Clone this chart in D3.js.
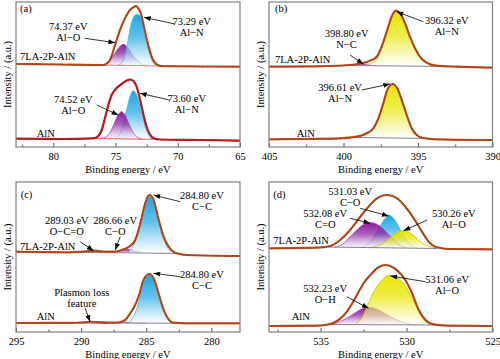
<!DOCTYPE html>
<meta charset="utf-8">
<style>
body { margin: 0; background: #fff; }
text { font-family: "Liberation Serif", "Times New Roman", serif; }
.frame { fill: none; stroke: #808080; stroke-width: 1.2px; }
.axis text { font-size: 10.5px; fill: #000; font-family: "Liberation Serif", serif; }
.axis line { stroke: #555; }
.axis path { display: none; }
.lbl { font-size: 10.5px; fill: #000; }
</style>
<svg width="500" height="359"></svg>
<script src="https://d3js.org/d3.v7.min.js"></script>
<script>

// ---- (a) Al 2p : [binding energy, intensity] ----
var aTop = [[83,79],[79.5,78.5],[76.65,78],[75.98,78],[75.45,83],[75.04,98],[74.64,113],[74.24,124.7],[73.84,133],[73.49,136.3],[73.36,137],[73.17,134.5],[73.04,132],[72.9,126.3],[72.63,111.3],[72.37,98],[72.1,86.3],[71.69,78.7],[71.29,77],[68.2,76.5],[65,76.3]];
var aTopAlO = [[76.37,77.8],[75.97,78.6],[75.57,81.6],[75.17,87.4],[74.77,94.8],[74.37,98.7],[73.97,94.6],[73.57,87.2],[73.17,81.4],[72.77,78.3],[72.37,77.5]];
var aTopAlN = [[74.8,77.6],[74.4,82],[74.1,95],[73.97,104.7],[73.7,121.3],[73.29,128.7],[72.9,124.7],[72.63,108],[72.4,95],[72.23,88],[71.83,78],[71.5,77.2]];
var aTopBase = [[76.3,78],[71.2,77]];
var aAlN = [[83,4.3],[79.5,4],[76.79,4.7],[76.39,7],[76.11,13],[75.85,25],[75.58,38],[75.31,48],[74.91,55],[74.5,59],[74.1,62.5],[73.84,63.5],[73.57,62],[73.3,56],[73.04,44],[72.77,29],[72.5,16],[72.23,8.5],[71.97,5],[71.43,3.5],[68.2,3],[65,2.3]];
var aAlNAlO = [[76.2,4.4],[75.72,6.5],[75.42,11],[75.12,19],[74.82,27.5],[74.52,31.3],[74.22,27.5],[73.92,19],[73.62,11],[73.32,6.5],[72.9,4]];
var aAlNAlN = [[75.0,4.5],[74.7,8],[74.4,18],[74.1,34],[73.85,46],[73.6,52.3],[73.3,48],[73.04,38],[72.77,24],[72.5,12],[72.23,5.5],[71.9,3.8]];
var aAlNBase = [[76.6,4.5],[71.6,3.6]];

// ---- (b) N 1s ----
var bTop = [[405,76.3],[401.8,76.7],[399.56,78],[398.78,79.7],[398.22,82.3],[397.77,86.3],[397.44,96.3],[397.1,111.3],[396.77,126.3],[396.5,132.3],[396.21,129.7],[395.87,119.7],[395.54,106.3],[395.2,94.7],[394.87,86.3],[394.42,80.3],[393.75,77.3],[392.4,76.3],[390,75.3]];
var bTopAlN = [[398.6,77.5],[398.2,79.5],[397.77,84],[397.44,95],[397.1,110.5],[396.77,126],[396.5,132],[396.21,129.7],[395.87,119.7],[395.54,106.3],[395.2,94.7],[394.87,86.3],[394.42,80.3],[393.75,77.1],[393.3,76.6]];
var bTopNC = [[399.7,77.6],[399.2,78.5],[398.8,79.2],[398.4,78.5],[397.9,77.4]];
var bTopBase = [[399.8,77.5],[393.3,76.6]];
var bAlN = [[405,3.7],[400.68,4.3],[399.11,6.3],[398.44,9.7],[398.0,14.7],[397.66,24.7],[397.33,39.7],[397.06,53],[396.7,59],[396.43,55.7],[396.09,43],[395.76,28],[395.42,14.7],[395.09,8],[394.64,5],[393.75,3.7],[390,3]];
var bAlNAlN = [[399.0,5.8],[398.44,9.2],[398.0,14.2],[397.66,24.2],[397.33,39.2],[397.06,52.5],[396.7,58.5],[396.43,55.2],[396.09,42.5],[395.76,27.5],[395.42,14.2],[395.09,7.5],[394.64,4.6],[394.1,4]];
var bAlNBase = [[399.2,5.5],[394.2,4.5]];

// ---- (c) C 1s ----
var cTop = [[295,73.3],[291.1,72.7],[289.56,73.7],[288.92,74.3],[288.28,73.3],[287.38,73.3],[286.75,75.7],[286.23,79],[285.85,85],[285.59,95],[285.33,108.3],[285.08,121.7],[284.77,130],[284.48,126.7],[284.23,115],[283.97,101.7],[283.67,88.3],[283.28,78.3],[282.77,72.3],[281.87,70],[277.8,69]];
var cTopCC = [[286.4,73],[286.1,77],[285.85,83],[285.59,93],[285.33,106],[285.08,119],[284.8,128.5],[284.48,125.5],[284.23,114],[283.97,100.5],[283.67,87],[283.4,78],[283.1,73.5],[282.8,72]];
var cTopCO = [[287.7,72.6],[287.2,74],[286.9,75.4],[286.66,76],[286.3,75.4],[285.9,74],[285.4,72.4]];
var cTopOCO = [[290.0,72.9],[289.5,73.9],[289.03,74.4],[288.5,73.9],[288.0,72.9]];
var cTopBase = [[290.5,72.8],[282.5,71.5]];
var cAlN = [[295,2],[291,2.2],[289.82,2.5],[289.3,3.2],[288.02,2.2],[287.13,2.5],[286.62,5],[286.23,11.7],[285.85,20],[285.51,31.7],[285.21,45],[284.77,51],[284.44,46.7],[284.13,35],[283.79,20],[283.41,8.3],[282.9,2.3],[281.87,1.7],[277.8,1.7]];
var cAlNCC = [[286.3,2.5],[286.0,8],[285.7,17],[285.45,30],[285.2,43],[284.8,50],[284.44,46],[284.13,34],[283.79,19],[283.5,9],[283.2,3.5],[282.9,2]];
var cAlNPL = [[290.6,2.1],[290.0,3],[289.4,3.6],[288.8,3.6],[288.0,3.1],[287.0,2.7],[286.0,2.3],[285.0,2.0]];
var cAlNBase = [[291,2],[282.5,1.8]];

// ---- (d) O 1s ----
var dTop = [[538,76.7],[535.22,77.3],[534.44,79],[533.86,85],[533.28,95],[532.69,108.3],[532.21,118.3],[531.72,126.7],[531.14,130],[530.55,126.7],[530.07,118.3],[529.58,106.7],[529.1,93.3],[528.71,83.3],[528.32,78.3],[527.45,76],[525,75.7]];
var dTopCO = [[532.6,77.5],[532.2,82],[531.85,90],[531.5,100],[531.25,106.5],[531.03,110],[530.8,107.5],[530.5,100],[530.2,90],[529.85,82],[529.5,77.5]];
var dTopCdO = [[534.2,77.6],[533.7,81],[533.3,88],[532.9,95],[532.5,100.5],[532.08,102.3],[531.7,100.5],[531.3,95],[530.9,88],[530.5,81],[530.0,77.5]];
var dTopAlO = [[532.2,77.3],[531.7,79],[531.3,82.5],[530.9,88],[530.5,92.8],[530.26,94.3],[529.9,93],[529.5,88],[529.1,82],[528.7,78.5],[528.2,77]];
var dTopBase = [[534.6,78],[528.2,76.5]];
var dAlN = [[538,-1],[535.22,-0.7],[534.44,1],[533.96,5],[533.47,13.3],[532.99,26.7],[532.5,41.7],[532.01,51.7],[531.63,57.7],[531.24,60],[530.85,58.3],[530.46,53.3],[530.07,45],[529.68,31.7],[529.29,15],[528.9,5],[528.42,0.7],[527.45,-0.7],[525,-1]];
var dAlNAlO = [[533.0,0.5],[532.6,7],[532.3,18.3],[532.0,30],[531.72,38.3],[531.3,47],[530.94,50],[530.6,48.5],[530.36,45],[530.0,37.5],[529.78,30],[529.5,21],[529.29,13.3],[528.9,3.3],[528.5,0]];
var dAlNOH = [[534.5,0],[534.0,2.5],[533.5,6.5],[533.0,12],[532.6,16],[532.21,17.7],[531.8,16.5],[531.4,13],[531.0,9],[530.5,4.5],[530.0,1.5],[529.5,0.2]];
var dAlNBase = [[534.6,0.5],[528.2,0]];

// ---- axes ----
var aTicks = [80,75,70,65], aMinor = [82.5,77.5,72.5,67.5];
var bTicks = [405,400,395,390], bMinor = [402.5,397.5,392.5];
var cTicks = [295,290,285,280], cMinor = [292.5,287.5,282.5];
var dTicks = [535,530,525], dMinor = [537.5,532.5,527.5];

// ---- annotations: [E, I, line1, line2, arrowFromE, arrowFromI, arrowToE, arrowToI] ----
var aNotes = [[78.8,113.5,"74.37 eV","Al\u2212O",77.46,104.7,75.04,100.3],
              [68.88,117.8,"73.29 eV","Al\u2212N",70.23,119,72.71,125.7],
              [78.4,40.2,"74.52 eV","Al\u2212O",76.51,38,74.78,28],
              [69.28,41.2,"73.60 eV","Al\u2212N",70.65,43,73.04,49.7]];
var bNotes = [[399.79,106.2,"398.80 eV","N\u2212C",399.56,88,398.67,79],
              [393.07,118.8,"396.32 eV","Al\u2212N",394.64,121.3,396.43,131.3],
              [400.23,52.2,"396.61 eV","Al\u2212N",398.78,53,396.88,59]];
var cNotes = [[291.1,100.8,"289.03 eV","O\u2212C=O",290.08,83.3,289.05,74.3],
              [287.38,100.8,"286.66 eV","C\u2212O",287.0,88.3,287.38,75],
              [280.72,126.5,"284.80 eV","C\u2212C",282.38,123.3,284.44,130],
              [280.72,47.5,"284.80 eV","C\u2212C",282.38,48.3,284.44,51.7],
              [289.95,28.8,"Plasmon loss","feature",289.69,16.7,289.31,3.3]];
var dNotes = [[533.28,129.8,"531.03 eV","C\u2212O",532.69,116.7,531.04,109],
              [534.73,108.2,"532.08 eV","C=O",533.28,106.7,532.11,101.7],
              [527.25,108.2,"530.26 eV","Al\u2212O",528.8,105,530.17,94.3],
              [527.64,42.2,"531.06 eV","Al\u2212O",528.9,43.3,530.94,49],
              [534.73,33.2,"532.23 eV","O\u2212H",533.47,28.3,532.21,16.7]];

var sampleTop = "7LA-2P-AlN", sampleBot = "AlN";

var panels = [
  {dom:[83,65], ticks:aTicks, minor:aMinor, box:[16,240,2,147], yd:[-4,141], notes:aNotes,
   labels:[[82.68,82.8,sampleTop],[81.34,6.2,sampleBot],[82.68,131,"(a)"]],
   spectra:[{data:aTop, col:"#b8672a", dot:"#7c3410", base:aTopBase, bcol:"#f07a7a",
             comps:[{d:aTopAlO,k:"purple"},{d:aTopAlN,k:"cyan"}]},
            {data:aAlN, col:"#b3261e", dot:"#7a0c0c", base:aAlNBase, bcol:"#e85a5a",
             comps:[{d:aAlNAlN,k:"cyan"},{d:aAlNAlO,k:"purple"}]}]},
  {dom:[405,390], ticks:bTicks, minor:bMinor, box:[269,492.5,2,147], yd:[-4,141], notes:bNotes,
   labels:[[404.6,80.2,sampleTop],[403.14,6.2,sampleBot],[404.6,131,"(b)"]],
   spectra:[{data:bTop, col:"#b8672a", dot:"#7c3410", base:bTopBase, bcol:"#8a7f96",
             comps:[{d:bTopNC,k:"purple"},{d:bTopAlN,k:"yellow"}]},
            {data:bAlN, col:"#b8672a", dot:"#7c3410", base:bAlNBase, bcol:"#8a7f96",
             comps:[{d:bAlNAlN,k:"yellow"}]}]},
  {dom:[295,277.8], ticks:cTicks, minor:cMinor, box:[16,240,182,332], yd:[-7,143], notes:cNotes,
   labels:[[294.69,74.8,sampleTop],[293.41,5.5,sampleBot],[294.64,127.5,"(c)"]],
   spectra:[{data:cTop, col:"#b8672a", dot:"#7c3410", base:cTopBase, bcol:"#8a7f96",
             comps:[{d:cTopOCO,k:"olive"},{d:cTopCO,k:"purple"},{d:cTopCC,k:"cyan"}]},
            {data:cAlN, col:"#b8672a", dot:"#7c3410", base:cAlNBase, bcol:"#8a7f96",
             comps:[{d:cAlNPL,k:"purple"},{d:cAlNCC,k:"cyan"}]}]},
  {dom:[538,525], ticks:dTicks, minor:dMinor, box:[269,492.5,182,332], yd:[-7,143], notes:dNotes,
   labels:[[537.75,81.5,sampleTop],[536.68,4.8,sampleBot],[537.75,127.5,"(d)"]],
   spectra:[{data:dTop, col:"#b8672a", dot:"#7c3410", base:dTopBase, bcol:"#8a7f96",
             comps:[{d:dTopCO,k:"cyan"},{d:dTopCdO,k:"purple"},{d:dTopAlO,k:"yellow"}]},
            {data:dAlN, col:"#b8672a", dot:"#7c3410", base:dAlNBase, bcol:"#8a7f96",
             comps:[{d:dAlNOH,k:"purple"},{d:dAlNAlO,k:"yellow"}]}]}
];

var svg = d3.select("svg");
var defs = svg.append("defs");

// gradient fills for the fitted components
var fills = {cyan:["#1fa6e2","#48b6e6"], purple:["#8a1c9e","#a646c0"], yellow:["#e8e600","#c8c200"], olive:["#b9b46a","#a8a060"]};
Object.keys(fills).forEach(function(k) {
  var g = defs.append("linearGradient").attr("id", "g-" + k)
      .attr("x1", 0).attr("y1", 0).attr("x2", 0).attr("y2", 1);
  g.append("stop").attr("offset", "0").attr("stop-color", fills[k][0]);
  g.append("stop").attr("offset", "0.45").attr("stop-color", fills[k][0]).attr("stop-opacity", 0.7);
  g.append("stop").attr("offset", "1").attr("stop-color", "#fff").attr("stop-opacity", 0.6);
});

defs.append("marker").attr("id", "arr")
    .attr("viewBox", "0 0 8 6").attr("refX", 8).attr("refY", 3)
    .attr("markerWidth", 7).attr("markerHeight", 5)
    .attr("markerUnits", "userSpaceOnUse").attr("orient", "auto")
  .append("path").attr("d", "M0,0L8,3L0,6z").attr("fill", "#000");

panels.forEach(function(p, i) {
  var x = d3.scaleLinear().domain(p.dom).range([p.box[0], p.box[1]]);
  var y = d3.scaleLinear().domain(p.yd).range([p.box[3], p.box[2]]);
  var g = svg.append("g");

  defs.append("clipPath").attr("id", "clip" + i).append("rect")
      .attr("x", p.box[0]).attr("y", p.box[2])
      .attr("width", p.box[1] - p.box[0]).attr("height", p.box[3] - p.box[2]);
  var plot = g.append("g").attr("clip-path", "url(#clip" + i + ")");

  var line = d3.line().x(function(d) { return x(d[0]); }).y(function(d) { return y(d[1]); })
      .curve(d3.curveMonotoneX);

  p.spectra.forEach(function(s) {
    var base = d3.scaleLinear().domain([s.base[0][0], s.base[1][0]])
        .range([s.base[0][1], s.base[1][1]]).clamp(true);
    var area = d3.area().x(function(d) { return x(d[0]); })
        .y0(function(d) { return y(base(d[0])); })
        .y1(function(d) { return y(d[1]); })
        .curve(d3.curveMonotoneX);

    s.comps.forEach(function(c) {
      plot.append("path").datum(c.d).attr("d", area).attr("fill", "url(#g-" + c.k + ")");
      plot.append("path").datum(c.d).attr("d", line).attr("fill", "none")
          .attr("stroke", fills[c.k][1]).attr("stroke-width", 0.8);
    });

    plot.append("path").datum(s.base).attr("d", line).attr("fill", "none")
        .attr("stroke", s.bcol).attr("stroke-width", 1);

    // measured spectrum: thick line + dotted points + red fit envelope
    plot.append("path").datum(s.data).attr("d", line).attr("fill", "none")
        .attr("stroke", s.col).attr("stroke-width", 2.2);
    plot.append("path").datum(s.data).attr("d", line).attr("fill", "none")
        .attr("stroke", s.dot).attr("stroke-width", 1.3)
        .attr("stroke-dasharray", "0.8,1.8").attr("stroke-linecap", "round");
    plot.append("path").datum(s.data).attr("d", line).attr("fill", "none")
        .attr("stroke", "#ff3030").attr("stroke-width", 0.6).attr("opacity", 0.8);
  });

  // bottom axis with inward ticks
  g.append("g").attr("class", "axis")
      .attr("transform", "translate(0," + p.box[3] + ")")
      .call(d3.axisBottom(x).tickValues(p.ticks).tickSize(-4).tickPadding(6).tickFormat(d3.format("d")));
  g.append("g").attr("class", "axis")
      .attr("transform", "translate(0," + p.box[3] + ")")
      .call(d3.axisBottom(x).tickValues(p.minor).tickSize(-2.5).tickFormat(""));

  g.append("rect").attr("class", "frame")
      .attr("x", p.box[0]).attr("y", p.box[2])
      .attr("width", p.box[1] - p.box[0]).attr("height", p.box[3] - p.box[2]);

  var cx = (p.box[0] + p.box[1]) / 2;
  g.append("text").attr("class", "lbl").attr("text-anchor", "middle")
      .attr("x", cx).attr("y", p.box[3] + 26).text("Binding energy / eV");
  g.append("text").attr("class", "lbl").attr("text-anchor", "middle")
      .attr("transform", "translate(" + (p.box[0] - 5) + "," + ((p.box[2] + p.box[3]) / 2) + ")rotate(-90)")
      .text("Intensity / (a.u.)");

  p.labels.forEach(function(l) {
    g.append("text").attr("class", "lbl").attr("x", x(l[0])).attr("y", y(l[1])).text(l[2]);
  });

  p.notes.forEach(function(n) {
    var t = g.append("text").attr("class", "lbl").attr("text-anchor", "middle");
    t.append("tspan").attr("x", x(n[0])).attr("y", y(n[1])).text(n[2]);
    t.append("tspan").attr("x", x(n[0])).attr("y", y(n[1]) + 11).text(n[3]);
    g.append("line")
        .attr("x1", x(n[4])).attr("y1", y(n[5]))
        .attr("x2", x(n[6])).attr("y2", y(n[7]))
        .attr("stroke", "#000").attr("stroke-width", 0.8)
        .attr("marker-end", "url(#arr)");
  });
});

</script>
